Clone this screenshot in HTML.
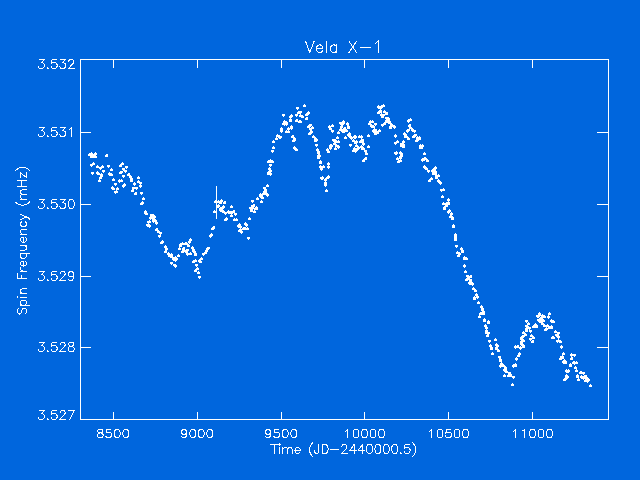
<!DOCTYPE html>
<html><head><meta charset="utf-8"><title>Vela X-1</title>
<style>
html,body{margin:0;padding:0;background:#0066dd;font-family:"Liberation Sans",sans-serif;}
svg{display:block}
</style></head>
<body>
<svg width="640" height="480" viewBox="0 0 640 480" shape-rendering="crispEdges">
<rect x="0" y="0" width="640" height="480" fill="#0066dd"/>
<path fill="#ffffff" d="M80 59h529v1h-529zM80 419h529v1h-529zM80 59h1v361h-1zM608 59h1v361h-1zM113 412h1v7h-1zM113 60h1v8h-1zM197 412h1v7h-1zM197 60h1v8h-1zM281 412h1v7h-1zM281 60h1v8h-1zM364 412h1v7h-1zM364 60h1v8h-1zM448 412h1v7h-1zM448 60h1v8h-1zM532 412h1v7h-1zM532 60h1v8h-1zM81 132h10v1h-10zM597 132h11v1h-11zM81 204h10v1h-10zM597 204h11v1h-11zM81 276h10v1h-10zM597 276h11v1h-11zM81 347h10v1h-10zM597 347h11v1h-11zM216 186h1v33h-1zM90 156h3v2h-3zM91 155h1v1h-1zM88 154h3v2h-3zM89 153h1v1h-1zM91 155h3v2h-3zM92 154h1v1h-1zM90 153h3v2h-3zM91 152h1v1h-1zM94 153h3v2h-3zM95 152h1v1h-1zM92 155h3v2h-3zM93 154h1v4h-1zM94 156h3v2h-3zM95 155h1v1h-1zM105 155h3v2h-3zM106 154h2v1h-2zM90 164h3v2h-3zM91 166h1v1h-1zM92 163h3v2h-3zM93 162h1v1h-1zM96 166h3v2h-3zM97 165h1v1h-1zM101 166h3v2h-3zM102 165h1v1h-1zM99 167h3v2h-3zM100 169h1v1h-1zM107 165h3v2h-3zM108 167h1v1h-1zM110 169h3v2h-3zM111 168h1v1h-1zM121 163h3v2h-3zM122 162h1v1h-1zM119 165h3v2h-3zM120 164h1v1h-1zM125 166h3v2h-3zM126 168h1v1h-1zM122 168h3v2h-3zM123 170h1v1h-1zM91 172h3v2h-3zM92 174h1v1h-1zM97 173h3v2h-3zM98 172h1v1h-1zM96 172h3v2h-3zM97 171h1v1h-1zM102 170h3v2h-3zM103 172h1v1h-1zM100 174h3v3h-3zM101 173h1v1h-1zM99 177h3v2h-3zM100 176h1v1h-1zM98 180h3v2h-3zM99 179h1v1h-1zM108 173h3v2h-3zM109 172h1v4h-1zM110 174h3v2h-3zM111 173h1v1h-1zM119 172h3v2h-3zM120 171h2v1h-2zM120 171h3v2h-3zM121 173h1v1h-1zM124 170h3v2h-3zM125 172h1v1h-1zM122 175h3v2h-3zM123 177h1v1h-1zM127 174h3v2h-3zM128 173h2v1h-2zM129 176h3v2h-3zM130 175h1v4h-1zM130 178h3v2h-3zM131 177h1v4h-1zM112 179h3v2h-3zM113 178h1v1h-1zM118 180h3v2h-3zM119 179h1v4h-1zM120 180h3v2h-3zM121 179h1v1h-1zM114 183h3v2h-3zM115 185h1v1h-1zM123 184h3v2h-3zM124 183h1v1h-1zM122 185h3v2h-3zM123 184h1v4h-1zM130 180h3v2h-3zM131 179h2v1h-2zM137 177h3v2h-3zM138 176h1v1h-1zM137 181h3v2h-3zM138 180h1v1h-1zM139 182h3v2h-3zM140 184h1v1h-1zM133 183h3v2h-3zM134 182h1v4h-1zM139 185h3v2h-3zM140 184h1v4h-1zM112 188h3v2h-3zM113 187h1v1h-1zM111 187h3v2h-3zM112 186h1v1h-1zM116 188h3v2h-3zM117 187h1v1h-1zM115 191h3v2h-3zM116 190h1v1h-1zM114 191h3v2h-3zM115 193h1v1h-1zM132 187h3v2h-3zM133 189h1v1h-1zM131 190h3v2h-3zM132 189h1v1h-1zM135 187h3v2h-3zM136 189h1v1h-1zM134 193h3v2h-3zM135 192h2v1h-2zM140 192h3v2h-3zM141 194h1v1h-1zM142 198h3v2h-3zM143 197h1v1h-1zM141 202h3v2h-3zM142 201h1v1h-1zM140 203h3v2h-3zM141 202h1v1h-1zM144 211h3v2h-3zM145 210h1v1h-1zM145 213h3v2h-3zM146 212h1v1h-1zM144 212h3v2h-3zM145 214h1v1h-1zM150 214h3v2h-3zM151 216h1v1h-1zM149 217h3v2h-3zM150 216h1v4h-1zM152 215h3v2h-3zM153 214h1v1h-1zM153 216h3v2h-3zM154 218h1v1h-1zM151 217h3v2h-3zM152 219h1v1h-1zM153 219h3v2h-3zM154 218h1v4h-1zM154 220h3v2h-3zM155 222h1v1h-1zM152 220h3v2h-3zM153 222h1v1h-1zM155 222h3v2h-3zM156 224h1v1h-1zM147 221h3v2h-3zM148 223h1v1h-1zM148 221h3v2h-3zM149 220h1v1h-1zM148 225h3v2h-3zM149 224h1v4h-1zM146 224h3v2h-3zM147 226h1v1h-1zM155 229h3v2h-3zM156 228h2v1h-2zM157 231h3v2h-3zM158 230h1v1h-1zM159 232h3v2h-3zM160 234h1v1h-1zM158 235h3v2h-3zM159 237h1v1h-1zM161 241h3v2h-3zM162 240h1v4h-1zM160 242h3v2h-3zM161 241h1v1h-1zM164 246h3v2h-3zM165 245h1v1h-1zM165 248h3v2h-3zM166 247h1v4h-1zM179 244h3v3h-3zM180 243h1v1h-1zM181 243h3v2h-3zM182 242h1v1h-1zM184 243h3v2h-3zM185 242h1v1h-1zM188 241h3v2h-3zM189 240h1v4h-1zM189 239h3v2h-3zM190 238h1v1h-1zM187 245h3v2h-3zM188 244h1v1h-1zM191 247h3v2h-3zM192 246h1v1h-1zM182 248h3v2h-3zM183 247h2v1h-2zM164 251h3v2h-3zM165 250h1v1h-1zM167 253h3v2h-3zM168 252h1v1h-1zM168 254h3v3h-3zM169 253h1v1h-1zM170 254h3v2h-3zM171 253h1v4h-1zM170 255h3v3h-3zM171 254h1v1h-1zM172 258h3v2h-3zM173 257h1v4h-1zM174 259h3v2h-3zM175 258h1v4h-1zM175 258h3v2h-3zM176 257h1v4h-1zM174 257h3v2h-3zM175 256h1v1h-1zM177 255h3v2h-3zM178 254h1v1h-1zM170 262h3v2h-3zM171 264h1v1h-1zM173 264h3v2h-3zM174 266h1v1h-1zM174 265h3v2h-3zM175 267h1v1h-1zM178 248h3v2h-3zM179 247h1v1h-1zM185 243h3v2h-3zM186 242h1v1h-1zM182 250h3v2h-3zM183 249h1v4h-1zM181 251h3v2h-3zM182 250h1v1h-1zM185 250h3v3h-3zM186 249h1v1h-1zM186 249h3v2h-3zM187 251h1v1h-1zM186 253h3v2h-3zM187 255h1v1h-1zM189 253h3v2h-3zM190 252h1v1h-1zM192 249h3v3h-3zM193 248h1v1h-1zM193 251h3v2h-3zM194 250h1v4h-1zM194 253h3v3h-3zM195 252h1v1h-1zM194 260h3v2h-3zM195 259h1v1h-1zM192 261h3v2h-3zM193 260h1v1h-1zM195 264h3v2h-3zM196 266h1v1h-1zM196 268h3v2h-3zM197 267h1v1h-1zM194 270h3v2h-3zM195 269h1v1h-1zM197 272h3v2h-3zM198 271h1v1h-1zM198 276h3v2h-3zM199 278h1v1h-1zM199 261h3v2h-3zM200 260h1v1h-1zM200 258h3v2h-3zM201 257h1v1h-1zM198 260h3v2h-3zM199 259h1v4h-1zM202 253h3v2h-3zM203 255h1v1h-1zM204 252h3v2h-3zM205 251h2v1h-2zM205 250h3v2h-3zM206 252h1v1h-1zM207 247h3v2h-3zM208 249h1v1h-1zM206 248h3v2h-3zM207 250h1v1h-1zM209 235h3v2h-3zM210 237h1v1h-1zM210 234h3v2h-3zM211 233h1v4h-1zM212 227h3v2h-3zM213 226h2v1h-2zM211 228h3v2h-3zM212 227h1v1h-1zM214 201h3v2h-3zM215 200h1v1h-1zM217 201h3v2h-3zM218 200h1v1h-1zM219 202h3v2h-3zM220 201h1v1h-1zM220 200h3v2h-3zM221 199h1v1h-1zM223 202h3v2h-3zM224 201h2v1h-2zM217 205h3v2h-3zM218 204h1v1h-1zM216 206h3v2h-3zM217 205h1v1h-1zM219 208h3v2h-3zM220 207h1v4h-1zM221 207h3v2h-3zM222 206h1v1h-1zM222 206h3v2h-3zM223 205h1v1h-1zM220 209h3v2h-3zM221 211h1v1h-1zM219 209h3v2h-3zM220 211h1v1h-1zM213 211h3v2h-3zM214 210h1v1h-1zM230 206h3v2h-3zM231 205h1v1h-1zM227 211h3v2h-3zM228 210h1v4h-1zM224 212h3v2h-3zM225 214h1v1h-1zM222 211h3v2h-3zM223 210h1v1h-1zM229 212h3v2h-3zM230 211h2v1h-2zM230 212h3v2h-3zM231 211h1v1h-1zM232 211h3v2h-3zM233 210h2v1h-2zM231 211h3v2h-3zM232 213h1v1h-1zM230 215h3v2h-3zM231 214h1v1h-1zM234 213h3v2h-3zM235 215h1v1h-1zM225 218h3v2h-3zM226 217h1v1h-1zM224 219h3v2h-3zM225 218h1v1h-1zM235 219h3v2h-3zM236 218h1v1h-1zM233 219h3v2h-3zM234 218h1v1h-1zM237 225h3v2h-3zM238 227h1v1h-1zM238 224h3v2h-3zM239 223h1v4h-1zM239 226h3v2h-3zM240 225h1v1h-1zM238 230h3v2h-3zM239 229h1v1h-1zM240 231h3v2h-3zM241 230h1v4h-1zM239 229h3v2h-3zM240 228h1v1h-1zM242 228h3v2h-3zM243 227h1v1h-1zM243 228h3v2h-3zM244 227h1v1h-1zM244 223h3v2h-3zM245 222h1v1h-1zM246 228h3v2h-3zM247 227h1v1h-1zM244 228h3v2h-3zM245 227h1v1h-1zM248 218h3v2h-3zM249 217h1v1h-1zM249 207h3v2h-3zM250 209h1v1h-1zM251 207h3v2h-3zM252 206h1v4h-1zM250 210h3v2h-3zM251 209h1v1h-1zM253 211h3v2h-3zM254 210h1v1h-1zM255 207h3v3h-3zM256 206h1v1h-1zM251 200h3v2h-3zM252 202h1v1h-1zM252 205h3v2h-3zM253 204h2v1h-2zM251 205h3v2h-3zM252 207h1v1h-1zM254 208h3v2h-3zM255 207h2v1h-2zM256 198h3v2h-3zM257 197h1v1h-1zM259 194h3v3h-3zM260 193h1v1h-1zM261 197h3v2h-3zM262 196h1v1h-1zM260 201h3v2h-3zM261 200h1v1h-1zM263 191h3v2h-3zM264 190h2v1h-2zM264 189h3v2h-3zM265 188h1v4h-1zM263 187h3v2h-3zM264 189h1v1h-1zM265 193h3v2h-3zM266 192h1v1h-1zM266 194h3v2h-3zM267 196h1v1h-1zM266 185h3v2h-3zM267 184h1v1h-1zM272 141h3v2h-3zM273 140h1v1h-1zM272 147h3v2h-3zM273 146h1v1h-1zM271 150h3v2h-3zM272 152h1v1h-1zM267 161h3v2h-3zM268 160h1v1h-1zM271 161h3v2h-3zM272 160h1v1h-1zM269 160h3v2h-3zM270 159h1v4h-1zM269 164h3v2h-3zM270 166h1v1h-1zM268 168h3v2h-3zM269 167h1v1h-1zM269 170h3v2h-3zM270 169h1v1h-1zM267 172h3v3h-3zM268 171h1v1h-1zM269 173h3v2h-3zM270 172h1v4h-1zM292 140h3v2h-3zM293 139h1v1h-1zM293 147h3v2h-3zM294 146h1v4h-1zM295 149h3v2h-3zM296 148h1v1h-1zM314 140h3v2h-3zM315 139h2v1h-2zM315 144h3v2h-3zM316 146h1v1h-1zM316 149h3v2h-3zM317 148h1v1h-1zM317 151h3v3h-3zM318 150h1v1h-1zM317 155h3v2h-3zM318 154h2v1h-2zM317 157h3v2h-3zM318 156h1v1h-1zM318 155h3v2h-3zM319 154h1v4h-1zM319 161h3v3h-3zM320 160h1v1h-1zM319 166h3v2h-3zM320 165h1v4h-1zM320 168h3v2h-3zM321 167h1v4h-1zM322 166h3v2h-3zM323 165h1v1h-1zM321 177h3v2h-3zM322 176h1v4h-1zM320 177h3v2h-3zM321 179h1v1h-1zM324 179h3v2h-3zM325 178h1v1h-1zM326 177h3v2h-3zM327 176h1v1h-1zM327 176h3v2h-3zM328 175h1v1h-1zM324 182h3v2h-3zM325 181h1v1h-1zM324 184h3v2h-3zM325 186h1v1h-1zM325 190h3v2h-3zM326 189h1v1h-1zM327 151h3v2h-3zM328 150h1v1h-1zM326 149h3v2h-3zM327 148h1v1h-1zM327 163h3v2h-3zM328 162h1v1h-1zM327 166h3v2h-3zM328 165h1v4h-1zM303 105h3v2h-3zM304 104h1v1h-1zM296 107h3v2h-3zM297 109h1v1h-1zM297 112h3v2h-3zM298 111h1v1h-1zM299 111h3v2h-3zM300 113h1v1h-1zM295 114h3v2h-3zM296 116h1v1h-1zM299 115h3v2h-3zM300 114h1v1h-1zM301 116h3v2h-3zM302 115h1v1h-1zM305 114h3v2h-3zM306 113h2v1h-2zM307 112h3v2h-3zM308 111h1v4h-1zM305 118h3v2h-3zM306 117h2v1h-2zM295 120h3v2h-3zM296 119h2v1h-2zM298 121h3v2h-3zM299 120h1v1h-1zM299 121h3v2h-3zM300 120h1v1h-1zM282 114h3v2h-3zM283 116h1v1h-1zM289 116h3v2h-3zM290 115h1v1h-1zM290 115h3v2h-3zM291 114h1v4h-1zM289 119h3v3h-3zM290 118h1v1h-1zM283 121h3v2h-3zM284 120h1v1h-1zM285 122h3v2h-3zM286 121h1v4h-1zM284 123h3v2h-3zM285 122h1v1h-1zM285 123h3v2h-3zM286 125h1v1h-1zM282 123h3v2h-3zM283 122h1v1h-1zM283 123h3v2h-3zM284 122h1v4h-1zM280 128h3v2h-3zM281 127h1v1h-1zM280 130h3v2h-3zM281 129h1v4h-1zM287 128h3v2h-3zM288 127h1v1h-1zM290 126h3v2h-3zM291 125h1v1h-1zM290 127h3v2h-3zM291 129h1v1h-1zM287 131h3v2h-3zM288 130h1v1h-1zM285 131h3v2h-3zM286 130h1v1h-1zM276 135h3v2h-3zM277 134h1v1h-1zM278 136h3v2h-3zM279 135h1v4h-1zM279 136h3v2h-3zM280 138h1v1h-1zM275 138h3v2h-3zM276 137h1v1h-1zM291 136h3v2h-3zM292 135h2v1h-2zM293 138h3v3h-3zM294 137h1v1h-1zM307 126h3v2h-3zM308 125h2v1h-2zM309 124h3v2h-3zM310 126h1v1h-1zM311 127h3v2h-3zM312 126h1v1h-1zM309 128h3v2h-3zM310 130h1v1h-1zM310 131h3v2h-3zM311 130h1v4h-1zM308 133h3v2h-3zM309 132h1v1h-1zM312 136h3v2h-3zM313 135h1v1h-1zM314 138h3v2h-3zM315 137h1v1h-1zM315 139h3v2h-3zM316 138h1v1h-1zM331 125h3v2h-3zM332 124h1v1h-1zM329 128h3v2h-3zM330 127h1v1h-1zM328 126h3v2h-3zM329 125h1v1h-1zM331 130h3v2h-3zM332 132h1v1h-1zM332 139h3v2h-3zM333 141h1v1h-1zM336 137h3v2h-3zM337 136h1v1h-1zM334 140h3v2h-3zM335 139h1v1h-1zM337 141h3v2h-3zM338 140h1v1h-1zM335 141h3v2h-3zM336 140h1v1h-1zM333 143h3v2h-3zM334 142h1v1h-1zM335 145h3v2h-3zM336 144h1v1h-1zM337 146h3v2h-3zM338 145h1v4h-1zM329 145h3v2h-3zM330 144h1v4h-1zM330 145h3v2h-3zM331 144h1v1h-1zM329 147h3v2h-3zM330 149h1v1h-1zM334 148h3v2h-3zM335 147h1v1h-1zM339 122h3v2h-3zM340 124h1v1h-1zM342 121h3v3h-3zM343 120h1v1h-1zM341 123h3v2h-3zM342 122h1v4h-1zM346 123h3v2h-3zM347 122h1v4h-1zM340 126h3v2h-3zM341 125h1v1h-1zM339 129h3v2h-3zM340 128h2v1h-2zM341 130h3v2h-3zM342 129h1v4h-1zM337 132h3v2h-3zM338 131h1v1h-1zM343 128h3v2h-3zM344 127h2v1h-2zM347 126h3v3h-3zM348 125h1v1h-1zM345 130h3v2h-3zM346 129h1v1h-1zM344 129h3v2h-3zM345 128h1v1h-1zM342 131h3v2h-3zM343 130h2v1h-2zM348 133h3v2h-3zM349 132h1v4h-1zM347 134h3v2h-3zM348 136h1v1h-1zM344 137h3v2h-3zM345 136h1v1h-1zM349 136h3v2h-3zM350 135h1v1h-1zM354 136h3v2h-3zM355 135h1v4h-1zM353 136h3v2h-3zM354 135h1v4h-1zM360 136h3v2h-3zM361 135h1v4h-1zM358 136h3v2h-3zM359 135h1v1h-1zM352 140h3v2h-3zM353 139h1v1h-1zM350 137h3v2h-3zM351 139h1v1h-1zM354 142h3v2h-3zM355 141h2v1h-2zM355 141h3v2h-3zM356 140h1v4h-1zM349 144h3v2h-3zM350 146h1v1h-1zM355 145h3v2h-3zM356 144h1v1h-1zM357 147h3v2h-3zM358 146h1v4h-1zM356 148h3v2h-3zM357 147h1v4h-1zM359 141h3v2h-3zM360 140h1v1h-1zM361 141h3v2h-3zM362 140h1v1h-1zM361 139h3v2h-3zM362 141h1v1h-1zM362 143h3v2h-3zM363 142h1v4h-1zM360 146h3v2h-3zM361 145h1v1h-1zM361 148h3v2h-3zM362 147h1v1h-1zM362 148h3v2h-3zM363 147h1v1h-1zM367 146h3v2h-3zM368 145h1v1h-1zM352 150h3v2h-3zM353 149h1v1h-1zM353 148h3v2h-3zM354 147h1v4h-1zM354 150h3v2h-3zM355 152h1v1h-1zM364 150h3v2h-3zM365 152h1v1h-1zM365 153h3v2h-3zM366 152h1v1h-1zM364 158h3v2h-3zM365 157h2v1h-2zM362 160h3v2h-3zM363 159h1v1h-1zM369 121h3v2h-3zM370 120h1v1h-1zM371 121h3v2h-3zM372 120h1v1h-1zM370 125h3v2h-3zM371 124h1v4h-1zM368 123h3v2h-3zM369 122h1v1h-1zM372 126h3v2h-3zM373 125h1v1h-1zM374 123h3v2h-3zM375 125h1v1h-1zM372 130h3v2h-3zM373 129h1v4h-1zM374 131h3v2h-3zM375 130h1v1h-1zM373 129h3v2h-3zM374 128h1v1h-1zM376 132h3v2h-3zM377 131h1v1h-1zM378 130h3v2h-3zM379 129h1v1h-1zM367 135h3v2h-3zM368 134h1v1h-1zM377 106h3v2h-3zM378 105h1v1h-1zM380 106h3v2h-3zM381 105h1v1h-1zM382 105h3v2h-3zM383 104h1v1h-1zM377 112h3v2h-3zM378 111h1v1h-1zM379 110h3v2h-3zM380 109h1v4h-1zM379 111h3v2h-3zM380 110h1v1h-1zM380 114h3v2h-3zM381 113h1v1h-1zM382 114h3v2h-3zM383 116h1v1h-1zM383 123h3v2h-3zM384 122h1v1h-1zM381 124h3v2h-3zM382 126h1v1h-1zM379 107h3v2h-3zM380 106h1v1h-1zM377 106h3v2h-3zM378 108h1v1h-1zM385 113h3v2h-3zM386 112h2v1h-2zM383 111h3v2h-3zM384 110h1v1h-1zM381 116h3v2h-3zM382 115h1v1h-1zM385 117h3v2h-3zM386 119h1v1h-1zM387 118h3v3h-3zM388 117h1v1h-1zM385 120h3v3h-3zM386 119h1v1h-1zM387 120h3v2h-3zM388 119h1v1h-1zM388 121h3v3h-3zM389 120h1v1h-1zM390 124h3v3h-3zM391 123h1v1h-1zM392 125h3v2h-3zM393 127h1v1h-1zM393 126h3v2h-3zM394 128h1v1h-1zM389 126h3v3h-3zM390 125h1v1h-1zM374 129h3v2h-3zM375 131h1v1h-1zM374 133h3v2h-3zM375 132h1v1h-1zM394 135h3v2h-3zM395 134h1v4h-1zM394 142h3v2h-3zM395 144h1v1h-1zM396 141h3v2h-3zM397 140h1v1h-1zM409 119h3v2h-3zM410 118h1v1h-1zM407 120h3v2h-3zM408 119h1v4h-1zM408 125h3v2h-3zM409 124h2v1h-2zM409 127h3v2h-3zM410 126h1v1h-1zM411 129h3v2h-3zM412 128h1v1h-1zM411 129h3v2h-3zM412 128h1v4h-1zM406 130h3v2h-3zM407 129h1v4h-1zM407 129h3v2h-3zM408 131h1v1h-1zM413 130h3v2h-3zM414 132h1v1h-1zM404 134h3v2h-3zM405 133h1v4h-1zM403 133h3v2h-3zM404 132h1v1h-1zM405 136h3v2h-3zM406 135h1v1h-1zM404 136h3v2h-3zM405 135h1v1h-1zM407 138h3v2h-3zM408 137h1v1h-1zM414 134h3v2h-3zM415 136h1v1h-1zM412 136h3v2h-3zM413 135h1v1h-1zM416 137h3v2h-3zM417 136h1v1h-1zM418 137h3v3h-3zM419 136h1v1h-1zM415 140h3v2h-3zM416 139h2v1h-2zM416 139h3v2h-3zM417 138h1v1h-1zM402 141h3v2h-3zM403 140h1v1h-1zM402 144h3v3h-3zM403 143h1v1h-1zM400 145h3v2h-3zM401 144h1v1h-1zM402 146h3v2h-3zM403 145h1v1h-1zM400 143h3v2h-3zM401 145h1v1h-1zM419 145h3v2h-3zM420 144h1v1h-1zM420 147h3v2h-3zM421 146h1v1h-1zM421 145h3v2h-3zM422 144h1v1h-1zM419 146h3v3h-3zM420 145h1v1h-1zM423 153h3v2h-3zM424 152h1v1h-1zM423 158h3v2h-3zM424 157h1v4h-1zM421 159h3v2h-3zM422 158h1v4h-1zM424 158h3v2h-3zM425 157h1v1h-1zM426 160h3v2h-3zM427 159h1v1h-1zM395 152h3v2h-3zM396 151h1v4h-1zM394 152h3v2h-3zM395 154h1v1h-1zM399 152h3v2h-3zM400 151h1v1h-1zM400 153h3v2h-3zM401 152h1v1h-1zM400 155h3v2h-3zM401 154h1v1h-1zM396 158h3v2h-3zM397 157h1v1h-1zM399 156h3v3h-3zM400 155h1v1h-1zM397 161h3v2h-3zM398 160h1v1h-1zM399 160h3v2h-3zM400 159h1v1h-1zM425 168h3v2h-3zM426 167h1v1h-1zM423 166h3v2h-3zM424 165h1v4h-1zM427 170h3v2h-3zM428 172h1v1h-1zM434 167h3v2h-3zM435 166h1v4h-1zM432 169h3v2h-3zM433 168h1v1h-1zM431 170h3v2h-3zM432 169h1v4h-1zM434 171h3v2h-3zM435 170h1v1h-1zM432 173h3v2h-3zM433 172h1v1h-1zM435 175h3v2h-3zM436 174h1v1h-1zM434 173h3v2h-3zM435 172h1v1h-1zM437 175h3v2h-3zM438 174h1v1h-1zM435 176h3v3h-3zM436 175h1v1h-1zM430 178h3v2h-3zM431 177h1v1h-1zM428 180h3v2h-3zM429 179h1v1h-1zM437 180h3v2h-3zM438 179h1v1h-1zM439 182h3v2h-3zM440 181h1v4h-1zM438 181h3v2h-3zM439 180h1v4h-1zM440 189h3v2h-3zM441 191h1v1h-1zM442 189h3v2h-3zM443 188h1v1h-1zM441 196h3v2h-3zM442 195h1v1h-1zM447 199h3v2h-3zM448 198h1v1h-1zM442 203h3v2h-3zM443 202h1v1h-1zM447 202h3v3h-3zM448 201h1v1h-1zM445 203h3v2h-3zM446 202h1v1h-1zM445 205h3v2h-3zM446 204h1v1h-1zM443 207h3v3h-3zM444 206h1v1h-1zM448 210h3v2h-3zM449 209h1v4h-1zM447 211h3v2h-3zM448 210h1v4h-1zM450 213h3v2h-3zM451 212h1v4h-1zM449 216h3v2h-3zM450 215h1v1h-1zM451 217h3v2h-3zM452 216h1v1h-1zM451 218h3v2h-3zM452 217h1v1h-1zM452 225h3v3h-3zM453 224h1v1h-1zM454 234h3v3h-3zM455 233h1v1h-1zM454 237h3v2h-3zM455 236h1v1h-1zM454 239h3v2h-3zM455 238h1v1h-1zM455 245h3v2h-3zM456 247h1v1h-1zM460 248h3v2h-3zM461 247h1v1h-1zM461 250h3v2h-3zM462 249h1v1h-1zM461 251h3v2h-3zM462 250h1v1h-1zM456 252h3v2h-3zM457 251h1v1h-1zM458 253h3v2h-3zM459 252h1v1h-1zM457 255h3v2h-3zM458 254h2v1h-2zM463 257h3v3h-3zM464 256h1v1h-1zM465 258h3v2h-3zM466 257h1v1h-1zM463 265h3v2h-3zM464 264h1v4h-1zM464 271h3v2h-3zM465 270h1v1h-1zM466 275h3v2h-3zM467 277h1v1h-1zM467 277h3v2h-3zM468 279h1v1h-1zM469 276h3v2h-3zM470 275h2v1h-2zM465 279h3v2h-3zM466 278h1v1h-1zM469 279h3v2h-3zM470 281h1v1h-1zM468 282h3v2h-3zM469 284h1v1h-1zM469 281h3v2h-3zM470 280h1v1h-1zM470 283h3v2h-3zM471 282h1v1h-1zM471 283h3v2h-3zM472 282h1v4h-1zM472 288h3v2h-3zM473 287h1v1h-1zM474 290h3v2h-3zM475 289h1v1h-1zM475 294h3v2h-3zM476 293h1v4h-1zM473 297h3v3h-3zM474 296h1v1h-1zM476 296h3v2h-3zM477 298h1v1h-1zM477 302h3v2h-3zM478 301h1v1h-1zM480 306h3v2h-3zM481 305h1v4h-1zM481 308h3v3h-3zM482 307h1v1h-1zM482 311h3v2h-3zM483 310h1v1h-1zM479 313h3v2h-3zM480 312h1v1h-1zM482 313h3v2h-3zM483 312h1v1h-1zM480 312h3v2h-3zM481 314h1v1h-1zM478 316h3v2h-3zM479 315h1v1h-1zM483 319h3v3h-3zM484 318h1v1h-1zM487 321h3v3h-3zM488 320h1v1h-1zM484 325h3v2h-3zM485 324h1v4h-1zM485 327h3v2h-3zM486 326h1v4h-1zM485 332h3v2h-3zM486 331h1v1h-1zM486 335h3v2h-3zM487 334h1v1h-1zM487 332h3v2h-3zM488 334h1v1h-1zM485 330h3v2h-3zM486 332h1v1h-1zM494 339h3v2h-3zM495 338h1v1h-1zM488 340h3v2h-3zM489 342h1v1h-1zM489 345h3v2h-3zM490 344h1v1h-1zM490 347h3v2h-3zM491 346h1v4h-1zM496 345h3v2h-3zM497 344h1v1h-1zM495 344h3v2h-3zM496 343h1v4h-1zM490 348h3v2h-3zM491 347h1v1h-1zM495 347h3v3h-3zM496 346h1v1h-1zM527 323h3v2h-3zM528 322h1v1h-1zM525 320h3v2h-3zM526 322h1v1h-1zM525 325h3v2h-3zM526 327h1v1h-1zM525 328h3v2h-3zM526 330h1v1h-1zM528 327h3v2h-3zM529 329h1v1h-1zM526 326h3v2h-3zM527 325h1v1h-1zM529 330h3v2h-3zM530 332h1v1h-1zM524 334h3v2h-3zM525 333h1v1h-1zM522 332h3v2h-3zM523 331h1v1h-1zM530 335h3v2h-3zM531 334h1v1h-1zM532 337h3v2h-3zM533 336h1v1h-1zM522 335h3v2h-3zM523 337h1v1h-1zM520 337h3v2h-3zM521 336h1v1h-1zM520 338h3v2h-3zM521 337h1v1h-1zM520 341h3v2h-3zM521 340h2v1h-2zM522 340h3v2h-3zM523 339h1v1h-1zM531 341h3v2h-3zM532 340h2v1h-2zM529 338h3v2h-3zM530 340h1v1h-1zM520 342h3v3h-3zM521 341h1v1h-1zM516 346h3v2h-3zM517 345h2v1h-2zM514 346h3v2h-3zM515 345h1v4h-1zM519 347h3v2h-3zM520 346h1v4h-1zM522 346h3v2h-3zM523 345h2v1h-2zM521 344h3v2h-3zM522 343h1v1h-1zM533 325h3v2h-3zM534 324h1v1h-1zM535 325h3v3h-3zM536 324h1v1h-1zM534 326h3v2h-3zM535 325h1v1h-1zM538 313h3v3h-3zM539 312h1v1h-1zM537 315h3v2h-3zM538 314h1v4h-1zM536 315h3v2h-3zM537 317h1v1h-1zM539 318h3v2h-3zM540 317h1v1h-1zM538 319h3v2h-3zM539 321h1v1h-1zM541 315h3v3h-3zM542 314h1v1h-1zM539 319h3v2h-3zM540 321h1v1h-1zM542 320h3v2h-3zM543 319h1v1h-1zM540 318h3v2h-3zM541 317h1v1h-1zM541 323h3v2h-3zM542 322h1v1h-1zM539 321h3v2h-3zM540 320h1v1h-1zM543 325h3v2h-3zM544 324h1v1h-1zM497 350h3v2h-3zM498 349h1v1h-1zM495 347h3v2h-3zM496 349h1v1h-1zM491 353h3v2h-3zM492 352h1v1h-1zM498 356h3v2h-3zM499 358h1v1h-1zM499 359h3v3h-3zM500 358h1v1h-1zM499 365h3v2h-3zM500 364h1v4h-1zM502 365h3v2h-3zM503 364h1v1h-1zM500 363h3v2h-3zM501 362h1v1h-1zM504 367h3v3h-3zM505 366h1v1h-1zM505 371h3v2h-3zM506 370h1v1h-1zM503 369h3v2h-3zM504 371h1v1h-1zM503 375h3v2h-3zM504 374h1v1h-1zM507 375h3v2h-3zM508 374h1v1h-1zM508 372h3v2h-3zM509 374h1v1h-1zM509 375h3v2h-3zM510 374h2v1h-2zM512 376h3v2h-3zM513 378h1v1h-1zM511 384h3v2h-3zM512 383h1v1h-1zM514 364h3v3h-3zM515 363h1v1h-1zM512 365h3v2h-3zM513 364h1v4h-1zM515 358h3v2h-3zM516 357h1v4h-1zM517 355h3v2h-3zM518 354h1v1h-1zM518 353h3v2h-3zM519 352h1v1h-1zM552 337h3v2h-3zM553 336h1v1h-1zM551 337h3v2h-3zM552 336h1v1h-1zM543 316h3v2h-3zM544 315h1v1h-1zM537 319h3v2h-3zM538 321h1v1h-1zM534 324h3v2h-3zM535 323h1v1h-1zM532 326h3v2h-3zM533 325h1v1h-1zM546 325h3v2h-3zM547 324h1v1h-1zM545 328h3v2h-3zM546 327h1v1h-1zM544 329h3v2h-3zM545 328h1v1h-1zM525 330h3v2h-3zM526 329h1v1h-1zM548 313h3v2h-3zM549 312h1v1h-1zM547 316h3v2h-3zM548 315h1v4h-1zM550 320h3v2h-3zM551 319h1v4h-1zM552 321h3v2h-3zM553 320h1v1h-1zM550 326h3v3h-3zM551 325h1v1h-1zM548 327h3v2h-3zM549 326h1v1h-1zM554 331h3v2h-3zM555 330h1v1h-1zM557 332h3v2h-3zM558 334h1v1h-1zM556 334h3v2h-3zM557 333h1v1h-1zM555 334h3v2h-3zM556 336h1v1h-1zM557 336h3v2h-3zM558 335h1v4h-1zM557 340h3v2h-3zM558 339h1v1h-1zM556 340h3v2h-3zM557 342h1v1h-1zM559 341h3v2h-3zM560 340h1v1h-1zM560 346h3v2h-3zM561 345h1v4h-1zM562 353h3v2h-3zM563 352h1v1h-1zM561 356h3v3h-3zM562 355h1v1h-1zM560 356h3v2h-3zM561 358h1v1h-1zM570 354h3v2h-3zM571 353h1v4h-1zM573 354h3v2h-3zM574 356h1v1h-1zM570 358h3v2h-3zM571 357h2v1h-2zM560 357h3v2h-3zM561 359h1v1h-1zM559 358h3v2h-3zM560 357h1v1h-1zM563 360h3v2h-3zM564 359h1v1h-1zM564 362h3v2h-3zM565 361h2v1h-2zM562 361h3v2h-3zM563 360h1v4h-1zM572 362h3v2h-3zM573 361h1v1h-1zM573 362h3v2h-3zM574 361h1v4h-1zM575 362h3v2h-3zM576 361h1v1h-1zM573 362h3v2h-3zM574 361h1v1h-1zM569 364h3v3h-3zM570 363h1v1h-1zM574 367h3v2h-3zM575 366h1v1h-1zM565 370h3v2h-3zM566 369h1v1h-1zM566 371h3v2h-3zM567 370h1v1h-1zM567 370h3v2h-3zM568 369h1v1h-1zM575 370h3v2h-3zM576 369h1v1h-1zM579 372h3v2h-3zM580 371h2v1h-2zM582 372h3v2h-3zM583 374h1v1h-1zM566 376h3v2h-3zM567 375h1v1h-1zM565 375h3v2h-3zM566 374h1v1h-1zM565 377h3v2h-3zM566 379h1v1h-1zM563 379h3v2h-3zM564 378h1v1h-1zM576 375h3v3h-3zM577 374h1v1h-1zM580 376h3v2h-3zM581 375h1v4h-1zM582 377h3v2h-3zM583 376h1v4h-1zM577 379h3v2h-3zM578 378h1v1h-1zM584 375h3v2h-3zM585 377h1v1h-1zM585 377h3v3h-3zM586 376h1v1h-1zM584 380h3v2h-3zM585 379h1v1h-1zM586 378h3v2h-3zM587 377h1v1h-1zM587 379h3v2h-3zM588 378h1v1h-1zM586 380h3v2h-3zM587 382h1v1h-1zM589 385h3v2h-3zM590 384h1v1h-1zM247 237h3v2h-3zM248 239h1v1h-1zM245 224h3v2h-3zM246 226h1v1h-1zM260 195h3v3h-3zM261 194h1v1h-1zM262 193h3v2h-3zM263 192h1v1h-1zM264 190h3v2h-3zM265 189h1v1h-1z"/>
<path fill="none" stroke="#ffffff" stroke-width="1" stroke-linecap="square" stroke-linejoin="miter" d="M39.35 59.47 L44.02 59.47 L41.48 62.91 L42.75 62.91 L43.60 63.34 L44.02 63.77 L44.45 65.06 L44.45 65.92 L44.02 67.21 L43.18 68.07 L41.90 68.50 L40.62 68.50 L39.35 68.07 L38.93 67.64 L38.50 66.78 M47.85 67.64 L47.42 68.07 L47.85 68.50 L48.28 68.07 L47.85 67.64 M56.35 59.47 L52.10 59.47 L51.67 63.34 L52.10 62.91 L53.38 62.48 L54.65 62.48 L55.92 62.91 L56.78 63.77 L57.20 65.06 L57.20 65.92 L56.78 67.21 L55.92 68.07 L54.65 68.50 L53.38 68.50 L52.10 68.07 L51.67 67.64 L51.25 66.78 M60.60 59.47 L65.28 59.47 L62.73 62.91 L64.00 62.91 L64.85 63.34 L65.28 63.77 L65.70 65.06 L65.70 65.92 L65.28 67.21 L64.42 68.07 L63.15 68.50 L61.88 68.50 L60.60 68.07 L60.17 67.64 L59.75 66.78 M68.67 61.62 L68.67 61.19 L69.10 60.33 L69.53 59.90 L70.38 59.47 L72.08 59.47 L72.93 59.90 L73.35 60.33 L73.78 61.19 L73.78 62.05 L73.35 62.91 L72.50 64.20 L68.25 68.50 L74.20 68.50 M39.35 127.47 L44.02 127.47 L41.48 130.91 L42.75 130.91 L43.60 131.34 L44.02 131.77 L44.45 133.06 L44.45 133.92 L44.02 135.21 L43.18 136.07 L41.90 136.50 L40.62 136.50 L39.35 136.07 L38.93 135.64 L38.50 134.78 M47.85 135.64 L47.42 136.07 L47.85 136.50 L48.28 136.07 L47.85 135.64 M56.35 127.47 L52.10 127.47 L51.67 131.34 L52.10 130.91 L53.38 130.48 L54.65 130.48 L55.92 130.91 L56.78 131.77 L57.20 133.06 L57.20 133.92 L56.78 135.21 L55.92 136.07 L54.65 136.50 L53.38 136.50 L52.10 136.07 L51.67 135.64 L51.25 134.78 M60.60 127.47 L65.28 127.47 L62.73 130.91 L64.00 130.91 L64.85 131.34 L65.28 131.77 L65.70 133.06 L65.70 133.92 L65.28 135.21 L64.42 136.07 L63.15 136.50 L61.88 136.50 L60.60 136.07 L60.17 135.64 L59.75 134.78 M69.53 129.19 L70.38 128.76 L71.65 127.47 L71.65 136.50 M39.35 199.47 L44.02 199.47 L41.48 202.91 L42.75 202.91 L43.60 203.34 L44.02 203.77 L44.45 205.06 L44.45 205.92 L44.02 207.21 L43.18 208.07 L41.90 208.50 L40.62 208.50 L39.35 208.07 L38.93 207.64 L38.50 206.78 M47.85 207.64 L47.42 208.07 L47.85 208.50 L48.28 208.07 L47.85 207.64 M56.35 199.47 L52.10 199.47 L51.67 203.34 L52.10 202.91 L53.38 202.48 L54.65 202.48 L55.92 202.91 L56.78 203.77 L57.20 205.06 L57.20 205.92 L56.78 207.21 L55.92 208.07 L54.65 208.50 L53.38 208.50 L52.10 208.07 L51.67 207.64 L51.25 206.78 M60.60 199.47 L65.28 199.47 L62.73 202.91 L64.00 202.91 L64.85 203.34 L65.28 203.77 L65.70 205.06 L65.70 205.92 L65.28 207.21 L64.42 208.07 L63.15 208.50 L61.88 208.50 L60.60 208.07 L60.17 207.64 L59.75 206.78 M70.80 199.47 L69.53 199.90 L68.67 201.19 L68.25 203.34 L68.25 204.63 L68.67 206.78 L69.53 208.07 L70.80 208.50 L71.65 208.50 L72.93 208.07 L73.78 206.78 L74.20 204.63 L74.20 203.34 L73.78 201.19 L72.93 199.90 L71.65 199.47 L70.80 199.47 M39.35 271.47 L44.02 271.47 L41.48 274.91 L42.75 274.91 L43.60 275.34 L44.02 275.77 L44.45 277.06 L44.45 277.92 L44.02 279.21 L43.18 280.07 L41.90 280.50 L40.62 280.50 L39.35 280.07 L38.93 279.64 L38.50 278.78 M47.85 279.64 L47.42 280.07 L47.85 280.50 L48.28 280.07 L47.85 279.64 M56.35 271.47 L52.10 271.47 L51.67 275.34 L52.10 274.91 L53.38 274.48 L54.65 274.48 L55.92 274.91 L56.78 275.77 L57.20 277.06 L57.20 277.92 L56.78 279.21 L55.92 280.07 L54.65 280.50 L53.38 280.50 L52.10 280.07 L51.67 279.64 L51.25 278.78 M60.17 273.62 L60.17 273.19 L60.60 272.33 L61.03 271.90 L61.88 271.47 L63.58 271.47 L64.42 271.90 L64.85 272.33 L65.28 273.19 L65.28 274.05 L64.85 274.91 L64.00 276.20 L59.75 280.50 L65.70 280.50 M73.78 274.48 L73.35 275.77 L72.50 276.63 L71.22 277.06 L70.80 277.06 L69.53 276.63 L68.67 275.77 L68.25 274.48 L68.25 274.05 L68.67 272.76 L69.53 271.90 L70.80 271.47 L71.22 271.47 L72.50 271.90 L73.35 272.76 L73.78 274.48 L73.78 276.63 L73.35 278.78 L72.50 280.07 L71.22 280.50 L70.38 280.50 L69.10 280.07 L68.67 279.21 M39.35 342.47 L44.02 342.47 L41.48 345.91 L42.75 345.91 L43.60 346.34 L44.02 346.77 L44.45 348.06 L44.45 348.92 L44.02 350.21 L43.18 351.07 L41.90 351.50 L40.62 351.50 L39.35 351.07 L38.93 350.64 L38.50 349.78 M47.85 350.64 L47.42 351.07 L47.85 351.50 L48.28 351.07 L47.85 350.64 M56.35 342.47 L52.10 342.47 L51.67 346.34 L52.10 345.91 L53.38 345.48 L54.65 345.48 L55.92 345.91 L56.78 346.77 L57.20 348.06 L57.20 348.92 L56.78 350.21 L55.92 351.07 L54.65 351.50 L53.38 351.50 L52.10 351.07 L51.67 350.64 L51.25 349.78 M60.17 344.62 L60.17 344.19 L60.60 343.33 L61.03 342.90 L61.88 342.47 L63.58 342.47 L64.42 342.90 L64.85 343.33 L65.28 344.19 L65.28 345.05 L64.85 345.91 L64.00 347.20 L59.75 351.50 L65.70 351.50 M70.38 342.47 L69.10 342.90 L68.67 343.76 L68.67 344.62 L69.10 345.48 L69.95 345.91 L71.65 346.34 L72.93 346.77 L73.78 347.63 L74.20 348.49 L74.20 349.78 L73.78 350.64 L73.35 351.07 L72.08 351.50 L70.38 351.50 L69.10 351.07 L68.67 350.64 L68.25 349.78 L68.25 348.49 L68.67 347.63 L69.53 346.77 L70.80 346.34 L72.50 345.91 L73.35 345.48 L73.78 344.62 L73.78 343.76 L73.35 342.90 L72.08 342.47 L70.38 342.47 M39.35 410.47 L44.02 410.47 L41.48 413.91 L42.75 413.91 L43.60 414.34 L44.02 414.77 L44.45 416.06 L44.45 416.92 L44.02 418.21 L43.18 419.07 L41.90 419.50 L40.62 419.50 L39.35 419.07 L38.93 418.64 L38.50 417.78 M47.85 418.64 L47.42 419.07 L47.85 419.50 L48.28 419.07 L47.85 418.64 M56.35 410.47 L52.10 410.47 L51.67 414.34 L52.10 413.91 L53.38 413.48 L54.65 413.48 L55.92 413.91 L56.78 414.77 L57.20 416.06 L57.20 416.92 L56.78 418.21 L55.92 419.07 L54.65 419.50 L53.38 419.50 L52.10 419.07 L51.67 418.64 L51.25 417.78 M60.17 412.62 L60.17 412.19 L60.60 411.33 L61.03 410.90 L61.88 410.47 L63.58 410.47 L64.42 410.90 L64.85 411.33 L65.28 412.19 L65.28 413.05 L64.85 413.91 L64.00 415.20 L59.75 419.50 L65.70 419.50 M74.20 410.47 L69.95 419.50 M68.25 410.47 L74.20 410.47 M99.40 429.50 L98.12 429.88 L97.70 430.64 L97.70 431.40 L98.12 432.17 L98.97 432.55 L100.67 432.93 L101.95 433.31 L102.80 434.07 L103.22 434.83 L103.22 435.98 L102.80 436.74 L102.38 437.12 L101.10 437.50 L99.40 437.50 L98.12 437.12 L97.70 436.74 L97.28 435.98 L97.28 434.83 L97.70 434.07 L98.55 433.31 L99.83 432.93 L101.53 432.55 L102.38 432.17 L102.80 431.40 L102.80 430.64 L102.38 429.88 L101.10 429.50 L99.40 429.50 M110.88 429.50 L106.62 429.50 L106.20 432.93 L106.62 432.55 L107.90 432.17 L109.17 432.17 L110.45 432.55 L111.30 433.31 L111.72 434.45 L111.72 435.21 L111.30 436.36 L110.45 437.12 L109.17 437.50 L107.90 437.50 L106.62 437.12 L106.20 436.74 L105.78 435.98 M116.83 429.50 L115.55 429.88 L114.70 431.02 L114.28 432.93 L114.28 434.07 L114.70 435.98 L115.55 437.12 L116.83 437.50 L117.67 437.50 L118.95 437.12 L119.80 435.98 L120.22 434.07 L120.22 432.93 L119.80 431.02 L118.95 429.88 L117.67 429.50 L116.83 429.50 M125.33 429.50 L124.05 429.88 L123.20 431.02 L122.78 432.93 L122.78 434.07 L123.20 435.98 L124.05 437.12 L125.33 437.50 L126.17 437.50 L127.45 437.12 L128.30 435.98 L128.72 434.07 L128.72 432.93 L128.30 431.02 L127.45 429.88 L126.17 429.50 L125.33 429.50 M186.80 432.17 L186.38 433.31 L185.53 434.07 L184.25 434.45 L183.82 434.45 L182.55 434.07 L181.70 433.31 L181.28 432.17 L181.28 431.79 L181.70 430.64 L182.55 429.88 L183.82 429.50 L184.25 429.50 L185.53 429.88 L186.38 430.64 L186.80 432.17 L186.80 434.07 L186.38 435.98 L185.53 437.12 L184.25 437.50 L183.40 437.50 L182.12 437.12 L181.70 436.36 M192.32 429.50 L191.05 429.88 L190.20 431.02 L189.78 432.93 L189.78 434.07 L190.20 435.98 L191.05 437.12 L192.32 437.50 L193.18 437.50 L194.45 437.12 L195.30 435.98 L195.72 434.07 L195.72 432.93 L195.30 431.02 L194.45 429.88 L193.18 429.50 L192.32 429.50 M200.82 429.50 L199.55 429.88 L198.70 431.02 L198.28 432.93 L198.28 434.07 L198.70 435.98 L199.55 437.12 L200.82 437.50 L201.68 437.50 L202.95 437.12 L203.80 435.98 L204.22 434.07 L204.22 432.93 L203.80 431.02 L202.95 429.88 L201.68 429.50 L200.82 429.50 M209.32 429.50 L208.05 429.88 L207.20 431.02 L206.78 432.93 L206.78 434.07 L207.20 435.98 L208.05 437.12 L209.32 437.50 L210.18 437.50 L211.45 437.12 L212.30 435.98 L212.72 434.07 L212.72 432.93 L212.30 431.02 L211.45 429.88 L210.18 429.50 L209.32 429.50 M270.80 432.17 L270.38 433.31 L269.52 434.07 L268.25 434.45 L267.82 434.45 L266.55 434.07 L265.70 433.31 L265.27 432.17 L265.27 431.79 L265.70 430.64 L266.55 429.88 L267.82 429.50 L268.25 429.50 L269.52 429.88 L270.38 430.64 L270.80 432.17 L270.80 434.07 L270.38 435.98 L269.52 437.12 L268.25 437.50 L267.40 437.50 L266.12 437.12 L265.70 436.36 M278.88 429.50 L274.62 429.50 L274.20 432.93 L274.62 432.55 L275.90 432.17 L277.18 432.17 L278.45 432.55 L279.30 433.31 L279.73 434.45 L279.73 435.21 L279.30 436.36 L278.45 437.12 L277.18 437.50 L275.90 437.50 L274.62 437.12 L274.20 436.74 L273.77 435.98 M284.82 429.50 L283.55 429.88 L282.70 431.02 L282.27 432.93 L282.27 434.07 L282.70 435.98 L283.55 437.12 L284.82 437.50 L285.68 437.50 L286.95 437.12 L287.80 435.98 L288.23 434.07 L288.23 432.93 L287.80 431.02 L286.95 429.88 L285.68 429.50 L284.82 429.50 M293.32 429.50 L292.05 429.88 L291.20 431.02 L290.77 432.93 L290.77 434.07 L291.20 435.98 L292.05 437.12 L293.32 437.50 L294.18 437.50 L295.45 437.12 L296.30 435.98 L296.73 434.07 L296.73 432.93 L296.30 431.02 L295.45 429.88 L294.18 429.50 L293.32 429.50 M345.80 431.02 L346.65 430.64 L347.93 429.50 L347.93 437.50 M355.57 429.50 L354.30 429.88 L353.45 431.02 L353.02 432.93 L353.02 434.07 L353.45 435.98 L354.30 437.12 L355.57 437.50 L356.43 437.50 L357.70 437.12 L358.55 435.98 L358.98 434.07 L358.98 432.93 L358.55 431.02 L357.70 429.88 L356.43 429.50 L355.57 429.50 M364.07 429.50 L362.80 429.88 L361.95 431.02 L361.52 432.93 L361.52 434.07 L361.95 435.98 L362.80 437.12 L364.07 437.50 L364.93 437.50 L366.20 437.12 L367.05 435.98 L367.48 434.07 L367.48 432.93 L367.05 431.02 L366.20 429.88 L364.93 429.50 L364.07 429.50 M372.57 429.50 L371.30 429.88 L370.45 431.02 L370.02 432.93 L370.02 434.07 L370.45 435.98 L371.30 437.12 L372.57 437.50 L373.43 437.50 L374.70 437.12 L375.55 435.98 L375.98 434.07 L375.98 432.93 L375.55 431.02 L374.70 429.88 L373.43 429.50 L372.57 429.50 M381.07 429.50 L379.80 429.88 L378.95 431.02 L378.52 432.93 L378.52 434.07 L378.95 435.98 L379.80 437.12 L381.07 437.50 L381.93 437.50 L383.20 437.12 L384.05 435.98 L384.48 434.07 L384.48 432.93 L384.05 431.02 L383.20 429.88 L381.93 429.50 L381.07 429.50 M429.80 431.02 L430.65 430.64 L431.93 429.50 L431.93 437.50 M439.57 429.50 L438.30 429.88 L437.45 431.02 L437.02 432.93 L437.02 434.07 L437.45 435.98 L438.30 437.12 L439.57 437.50 L440.43 437.50 L441.70 437.12 L442.55 435.98 L442.98 434.07 L442.98 432.93 L442.55 431.02 L441.70 429.88 L440.43 429.50 L439.57 429.50 M450.62 429.50 L446.38 429.50 L445.95 432.93 L446.38 432.55 L447.65 432.17 L448.93 432.17 L450.20 432.55 L451.05 433.31 L451.48 434.45 L451.48 435.21 L451.05 436.36 L450.20 437.12 L448.93 437.50 L447.65 437.50 L446.38 437.12 L445.95 436.74 L445.52 435.98 M456.57 429.50 L455.30 429.88 L454.45 431.02 L454.02 432.93 L454.02 434.07 L454.45 435.98 L455.30 437.12 L456.57 437.50 L457.43 437.50 L458.70 437.12 L459.55 435.98 L459.98 434.07 L459.98 432.93 L459.55 431.02 L458.70 429.88 L457.43 429.50 L456.57 429.50 M465.07 429.50 L463.80 429.88 L462.95 431.02 L462.52 432.93 L462.52 434.07 L462.95 435.98 L463.80 437.12 L465.07 437.50 L465.93 437.50 L467.20 437.12 L468.05 435.98 L468.48 434.07 L468.48 432.93 L468.05 431.02 L467.20 429.88 L465.93 429.50 L465.07 429.50 M513.80 431.02 L514.65 430.64 L515.92 429.50 L515.92 437.50 M522.30 431.02 L523.15 430.64 L524.42 429.50 L524.42 437.50 M532.08 429.50 L530.80 429.88 L529.95 431.02 L529.52 432.93 L529.52 434.07 L529.95 435.98 L530.80 437.12 L532.08 437.50 L532.92 437.50 L534.20 437.12 L535.05 435.98 L535.48 434.07 L535.48 432.93 L535.05 431.02 L534.20 429.88 L532.92 429.50 L532.08 429.50 M540.58 429.50 L539.30 429.88 L538.45 431.02 L538.02 432.93 L538.02 434.07 L538.45 435.98 L539.30 437.12 L540.58 437.50 L541.42 437.50 L542.70 437.12 L543.55 435.98 L543.98 434.07 L543.98 432.93 L543.55 431.02 L542.70 429.88 L541.42 429.50 L540.58 429.50 M549.08 429.50 L547.80 429.88 L546.95 431.02 L546.52 432.93 L546.52 434.07 L546.95 435.98 L547.80 437.12 L549.08 437.50 L549.92 437.50 L551.20 437.12 L552.05 435.98 L552.48 434.07 L552.48 432.93 L552.05 431.02 L551.20 429.88 L549.92 429.50 L549.08 429.50 M274.47 444.47 L274.47 453.50 M270.65 444.47 L278.30 444.47 M279.05 444.47 L279.47 444.90 L279.90 444.47 L279.47 444.04 L279.05 444.47 M279.47 447.48 L279.47 453.50 M282.82 447.48 L282.82 453.50 M282.82 449.20 L284.10 447.91 L284.95 447.48 L286.22 447.48 L287.07 447.91 L287.50 449.20 L287.50 453.50 M287.50 449.20 L288.77 447.91 L289.62 447.48 L290.90 447.48 L291.75 447.91 L292.17 449.20 L292.17 453.50 M294.96 450.06 L300.06 450.06 L300.06 449.20 L299.63 448.34 L299.21 447.91 L298.36 447.48 L297.08 447.48 L296.23 447.91 L295.38 448.77 L294.96 450.06 L294.96 450.92 L295.38 452.21 L296.23 453.07 L297.08 453.50 L298.36 453.50 L299.21 453.07 L300.06 452.21 M312.59 442.75 L311.74 443.61 L310.89 444.90 L310.04 446.62 L309.61 448.77 L309.61 450.49 L310.04 452.64 L310.89 454.36 L311.74 455.65 L312.59 456.51 M318.87 444.47 L318.87 451.35 L318.45 452.64 L318.02 453.07 L317.17 453.50 L316.32 453.50 L315.47 453.07 L315.05 452.64 L314.62 451.35 L314.62 450.49 M322.17 444.47 L322.17 453.50 M322.17 444.47 L325.15 444.47 L326.42 444.90 L327.27 445.76 L327.70 446.62 L328.12 447.91 L328.12 450.06 L327.70 451.35 L327.27 452.21 L326.42 453.07 L325.15 453.50 L322.17 453.50 M330.96 449.63 L338.61 449.63 M341.85 446.62 L341.85 446.19 L342.27 445.33 L342.70 444.90 L343.55 444.47 L345.25 444.47 L346.10 444.90 L346.52 445.33 L346.95 446.19 L346.95 447.05 L346.52 447.91 L345.67 449.20 L341.42 453.50 L347.37 453.50 M354.05 444.47 L349.80 450.49 L356.17 450.49 M354.05 444.47 L354.05 453.50 M362.42 444.47 L358.17 450.49 L364.54 450.49 M362.42 444.47 L362.42 453.50 M369.09 444.47 L367.82 444.90 L366.97 446.19 L366.54 448.34 L366.54 449.63 L366.97 451.78 L367.82 453.07 L369.09 453.50 L369.94 453.50 L371.22 453.07 L372.07 451.78 L372.49 449.63 L372.49 448.34 L372.07 446.19 L371.22 444.90 L369.94 444.47 L369.09 444.47 M377.46 444.47 L376.19 444.90 L375.34 446.19 L374.91 448.34 L374.91 449.63 L375.34 451.78 L376.19 453.07 L377.46 453.50 L378.31 453.50 L379.59 453.07 L380.44 451.78 L380.86 449.63 L380.86 448.34 L380.44 446.19 L379.59 444.90 L378.31 444.47 L377.46 444.47 M385.84 444.47 L384.56 444.90 L383.71 446.19 L383.29 448.34 L383.29 449.63 L383.71 451.78 L384.56 453.07 L385.84 453.50 L386.69 453.50 L387.96 453.07 L388.81 451.78 L389.24 449.63 L389.24 448.34 L388.81 446.19 L387.96 444.90 L386.69 444.47 L385.84 444.47 M394.21 444.47 L392.93 444.90 L392.08 446.19 L391.66 448.34 L391.66 449.63 L392.08 451.78 L392.93 453.07 L394.21 453.50 L395.06 453.50 L396.33 453.07 L397.18 451.78 L397.61 449.63 L397.61 448.34 L397.18 446.19 L396.33 444.90 L395.06 444.47 L394.21 444.47 M400.88 452.64 L400.46 453.07 L400.88 453.50 L401.31 453.07 L400.88 452.64 M409.32 444.47 L405.07 444.47 L404.64 448.34 L405.07 447.91 L406.34 447.48 L407.62 447.48 L408.89 447.91 L409.74 448.77 L410.17 450.06 L410.17 450.92 L409.74 452.21 L408.89 453.07 L407.62 453.50 L406.34 453.50 L405.07 453.07 L404.64 452.64 L404.22 451.78 M412.59 442.75 L413.44 443.61 L414.29 444.90 L415.14 446.62 L415.56 448.77 L415.56 450.49 L415.14 452.64 L414.29 454.36 L413.44 455.65 L412.59 456.51 M305.50 41.21 L309.80 52.50 M314.10 41.21 L309.80 52.50 M316.25 48.20 L322.70 48.20 L322.70 47.12 L322.16 46.05 L321.62 45.51 L320.55 44.98 L318.94 44.98 L317.86 45.51 L316.79 46.59 L316.25 48.20 L316.25 49.27 L316.79 50.89 L317.86 51.96 L318.94 52.50 L320.55 52.50 L321.62 51.96 L322.70 50.89 M326.46 41.21 L326.46 52.50 M336.67 44.98 L336.67 52.50 M336.67 46.59 L335.60 45.51 L334.52 44.98 L332.91 44.98 L331.84 45.51 L330.76 46.59 L330.22 48.20 L330.22 49.27 L330.76 50.89 L331.84 51.96 L332.91 52.50 L334.52 52.50 L335.60 51.96 L336.67 50.89 M349.04 41.21 L356.56 52.50 M356.56 41.21 L349.04 52.50 M360.32 47.66 L370.00 47.66 M375.38 43.36 L376.45 42.83 L378.06 41.21 L378.06 52.50 M18.76 308.05 L17.90 308.90 L17.47 310.17 L17.47 311.88 L17.90 313.15 L18.76 314.00 L19.62 314.00 L20.48 313.57 L20.91 313.15 L21.34 312.30 L22.20 309.75 L22.63 308.90 L23.06 308.47 L23.92 308.05 L25.21 308.05 L26.07 308.90 L26.50 310.17 L26.50 311.88 L26.07 313.15 L25.21 314.00 M20.48 305.10 L29.51 305.10 M21.77 305.10 L20.91 304.25 L20.48 303.40 L20.48 302.13 L20.91 301.28 L21.77 300.43 L23.06 300.00 L23.92 300.00 L25.21 300.43 L26.07 301.28 L26.50 302.13 L26.50 303.40 L26.07 304.25 L25.21 305.10 M17.47 297.47 L17.90 297.05 L17.47 296.62 L17.04 297.05 L17.47 297.47 M20.48 297.05 L26.50 297.05 M20.48 293.66 L26.50 293.66 M22.20 293.66 L20.91 292.38 L20.48 291.53 L20.48 290.26 L20.91 289.41 L22.20 288.98 L26.50 288.98 M17.47 278.83 L26.50 278.83 M17.47 278.83 L17.47 273.30 M21.77 278.83 L21.77 275.43 M20.48 271.20 L26.50 271.20 M23.06 271.20 L21.77 270.78 L20.91 269.93 L20.48 269.08 L20.48 267.80 M23.06 266.12 L23.06 261.02 L22.20 261.02 L21.34 261.44 L20.91 261.87 L20.48 262.72 L20.48 263.99 L20.91 264.84 L21.77 265.69 L23.06 266.12 L23.92 266.12 L25.21 265.69 L26.07 264.84 L26.50 263.99 L26.50 262.72 L26.07 261.87 L25.21 261.02 M20.48 253.39 L29.51 253.39 M21.77 253.39 L20.91 254.24 L20.48 255.09 L20.48 256.37 L20.91 257.22 L21.77 258.07 L23.06 258.49 L23.92 258.49 L25.21 258.07 L26.07 257.22 L26.50 256.37 L26.50 255.09 L26.07 254.24 L25.21 253.39 M20.48 250.02 L24.78 250.02 L26.07 249.59 L26.50 248.74 L26.50 247.47 L26.07 246.62 L24.78 245.34 M20.48 245.34 L26.50 245.34 M23.06 242.39 L23.06 237.29 L22.20 237.29 L21.34 237.72 L20.91 238.14 L20.48 238.99 L20.48 240.27 L20.91 241.12 L21.77 241.97 L23.06 242.39 L23.92 242.39 L25.21 241.97 L26.07 241.12 L26.50 240.27 L26.50 238.99 L26.07 238.14 L25.21 237.29 M20.48 234.34 L26.50 234.34 M22.20 234.34 L20.91 233.06 L20.48 232.21 L20.48 230.94 L20.91 230.09 L22.20 229.66 L26.50 229.66 M21.77 221.61 L20.91 222.46 L20.48 223.31 L20.48 224.59 L20.91 225.44 L21.77 226.29 L23.06 226.71 L23.92 226.71 L25.21 226.29 L26.07 225.44 L26.50 224.59 L26.50 223.31 L26.07 222.46 L25.21 221.61 M20.48 219.51 L26.50 216.96 M20.48 214.41 L26.50 216.96 L28.22 217.81 L29.08 218.66 L29.51 219.51 L29.51 219.94 M15.75 202.13 L16.61 202.98 L17.90 203.83 L19.62 204.68 L21.77 205.10 L23.49 205.10 L25.64 204.68 L27.36 203.83 L28.65 202.98 L29.51 202.13 M20.48 199.17 L26.50 199.17 M22.20 199.17 L20.91 197.89 L20.48 197.04 L20.48 195.77 L20.91 194.92 L22.20 194.49 L26.50 194.49 M22.20 194.49 L20.91 193.22 L20.48 192.37 L20.48 191.09 L20.91 190.24 L22.20 189.82 L26.50 189.82 M17.47 186.46 L26.50 186.46 M17.47 180.51 L26.50 180.51 M21.77 186.46 L21.77 180.51 M20.48 172.89 L26.50 177.56 M20.48 177.56 L20.48 172.89 M26.50 177.56 L26.50 172.89 M15.75 170.36 L16.61 169.51 L17.90 168.66 L19.62 167.81 L21.77 167.38 L23.49 167.38 L25.64 167.81 L27.36 168.66 L28.65 169.51 L29.51 170.36"/>
</svg>
</body></html>
